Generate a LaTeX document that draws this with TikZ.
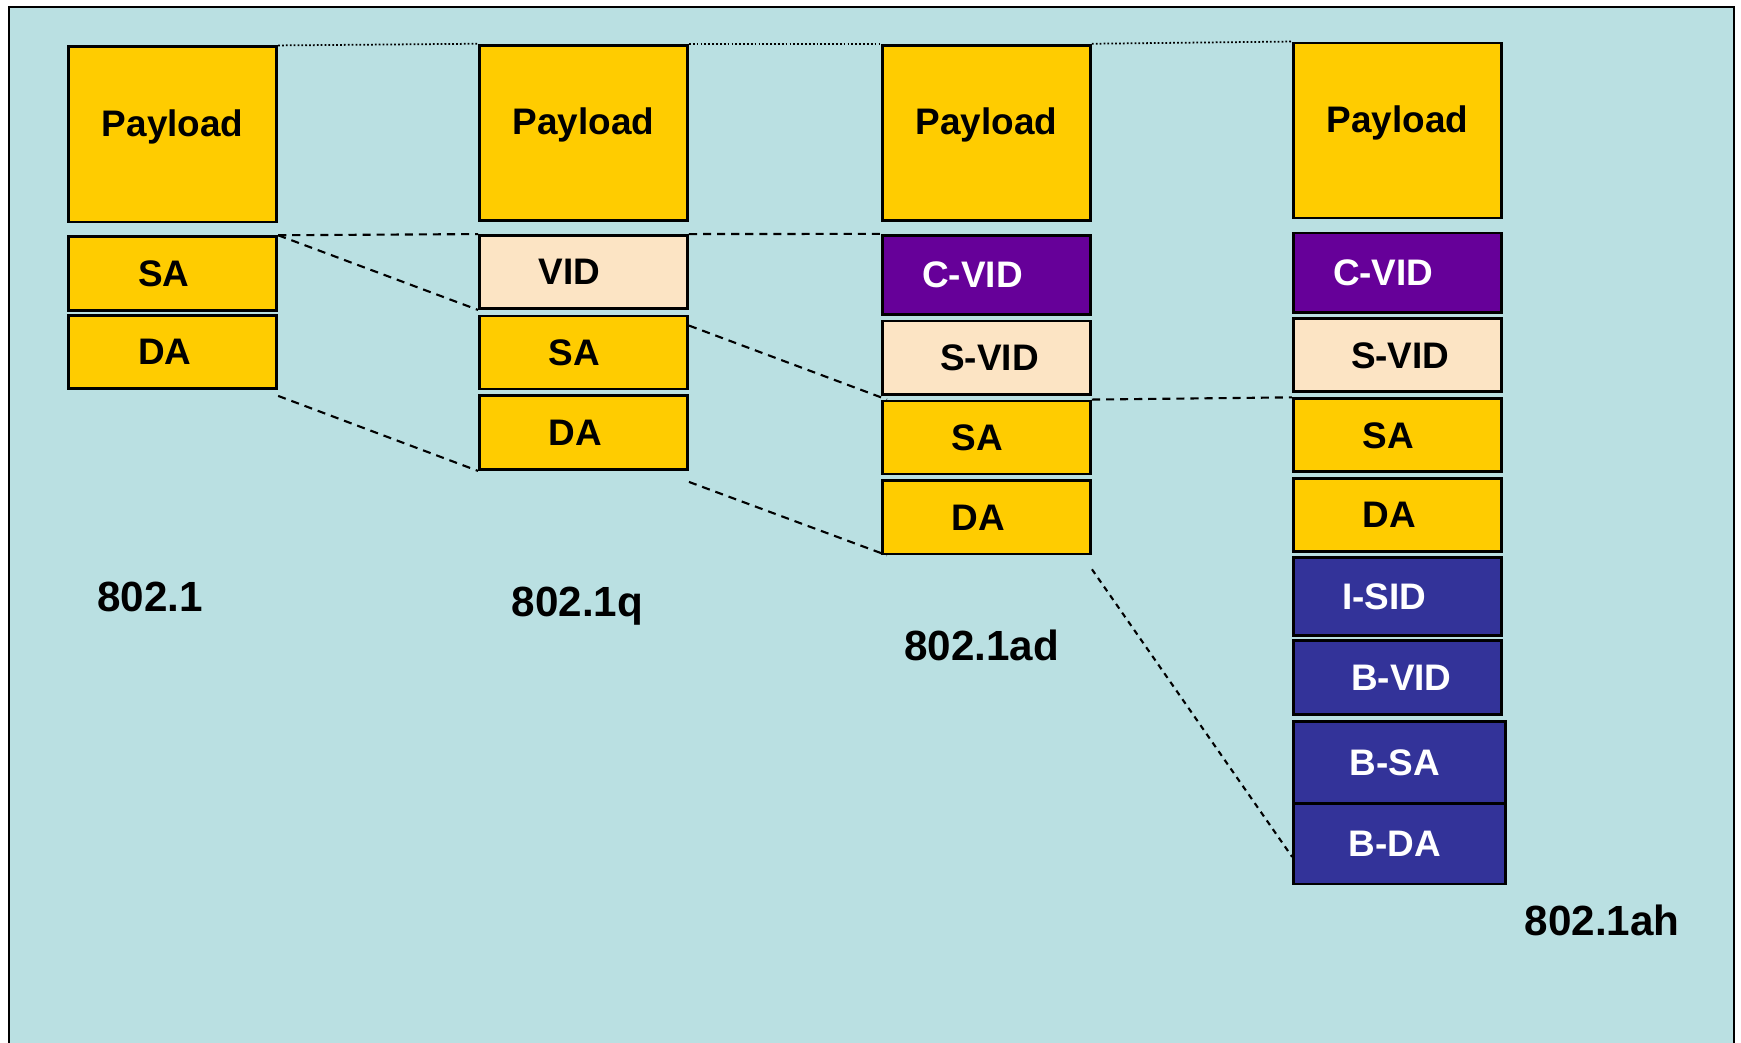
\documentclass[tikz,border=0pt]{standalone}
\usepackage{fontspec}
\setmainfont{Liberation Sans}
\usetikzlibrary{calc}
\definecolor{bgblue}{HTML}{BAE0E2}
\definecolor{hdryellow}{HTML}{FFCC00}
\definecolor{tagbeige}{HTML}{FCE4C4}
\definecolor{tagpurple}{HTML}{660099}
\definecolor{tagblue}{HTML}{333399}
\newcommand{\padl}[2]{#2\hspace*{#1}}% text sits left of centre
\newcommand{\padr}[2]{\hspace*{#1}#2}% text sits right of centre
\tikzset{
  field/.style={
    rectangle,
    draw=black, line width=0.8pt,
    minimum width=2.08cm,
    minimum height=0.73cm,
    inner sep=0pt,
    text centered,
    font=\fontsize{10.5}{12}\selectfont\bfseries},
  yfield/.style={field, fill=hdryellow},
  bfield/.style={field, fill=tagbeige},
  pfield/.style={field, fill=tagpurple, text=white},
  nfield/.style={field, fill=tagblue, text=white},
  payload/.style={yfield, minimum height=1.75cm, text height=0.73em, text depth=0.61em},
  stdname/.style={font=\fontsize{12}{14}\selectfont\bfseries},
  moved/.style={dash pattern=on 2.3pt off 1.7pt, line width=0.6pt},
  level line/.style={dash pattern=on 0.5pt off 0.6pt, line width=0.5pt},
}

\begin{document}
\begin{tikzpicture}[x=0.01cm,y=-0.01cm]
\useasboundingbox (0,0) rectangle (1741,1043);
\fill[bgblue] (9,7) rectangle (1734,1043);
\draw[line width=0.7pt] (9,1043) -- (9,7) -- (1734,7) -- (1734,1043);

% 802.1
\node[payload] at (172.7,134.4) (pay1) {Payload};
\node[yfield, minimum height=0.74cm] at (172.7,273.7) (sa1) {\padl{0.18cm}{SA}};
\node[yfield] at (172.7,352) (da1) {\padl{0.16cm}{DA}};

% 802.1q
\node[payload] at (583.5,132.7) (pay2) {Payload};
\node[bfield] at (583.5,272) (vid2) {\padl{0.28cm}{VID}};
\node[yfield] at (583.5,352.5) (sa2) {\padl{0.18cm}{SA}};
\node[yfield, minimum height=0.74cm] at (583.5,432.5) (da2) {\padl{0.16cm}{DA}};

% 802.1ad
\node[payload] at (986.5,132.7) (pay3) {Payload};
\node[pfield, minimum height=0.79cm] at (986.5,274.8) (cvid3) {\padl{0.28cm}{C-VID}};
\node[bfield] at (986.5,357.6) (svid3) {\padr{0.06cm}{S-VID}};
\node[yfield] at (986.5,437.5) (sa3) {\padl{0.18cm}{SA}};
\node[yfield] at (986.5,517.4) (da3) {\padl{0.16cm}{DA}};

% 802.1ah
\node[payload] at (1397.3,130.5) (pay4) {Payload};
\node[pfield, minimum height=0.79cm] at (1397.3,272.6) (cvid4) {\padl{0.28cm}{C-VID}};
\node[bfield] at (1397.3,355.3) (svid4) {\padr{0.06cm}{S-VID}};
\node[yfield] at (1397.3,435.3) (sa4) {\padl{0.18cm}{SA}};
\node[yfield] at (1397.3,515.2) (da4) {\padl{0.16cm}{DA}};
\node[nfield, minimum height=0.78cm] at (1397.3,596.3) (isid4) {\padl{0.26cm}{I-SID}};
\node[nfield, minimum height=0.74cm] at (1397.3,677.8) (bvid4) {\padr{0.08cm}{B-VID}};
\node[nfield, minimum width=2.12cm, minimum height=0.82cm] at (1399.6,762.8) (bsa4) {\padl{0.1cm}{B-SA}};
\node[nfield, minimum width=2.12cm, minimum height=0.80cm] at (1399.6,843.9) (bda4) {\padl{0.1cm}{B-DA}};

\node[stdname] at (149.9,597.3) (std1) {802.1};
\node[stdname] at (577.4,606.2) (std2) {802.1q};
\node[stdname] at (981.5,645.1) (std3) {802.1ad};
\node[stdname] at (1602.2,920.4) (std4) {802.1ah};

\draw[level line] (pay1.north east) -- (pay2.north west);
\draw[level line] (pay2.north east) -- (pay3.north west);
\draw[level line] (pay3.north east) -- (pay4.north west);

\draw[moved] (sa1.north east) -- (vid2.north west);
\draw[moved] (sa1.north east) -- (vid2.south west);
\draw[moved] ($(da1.south east)+(0,6)$) -- (da2.south west);
\draw[moved] (vid2.north east) -- (cvid3.north west);
\draw[moved] ($(sa2.north east)+(0,11)$) -- ($(sa3.north west)+(6,0)$);
\draw[moved] ($(da2.south east)+(0,11)$) -- ($(da3.south west)+(6,0)$);
\draw[moved] (sa3.north east) -- (sa4.north west);
\draw[moved, dash pattern=on 1.6pt off 1.4pt] ($(da3.south east)+(0,14)$) -- ($(bda4.west)+(0,13)$);
\end{tikzpicture}
\end{document}
